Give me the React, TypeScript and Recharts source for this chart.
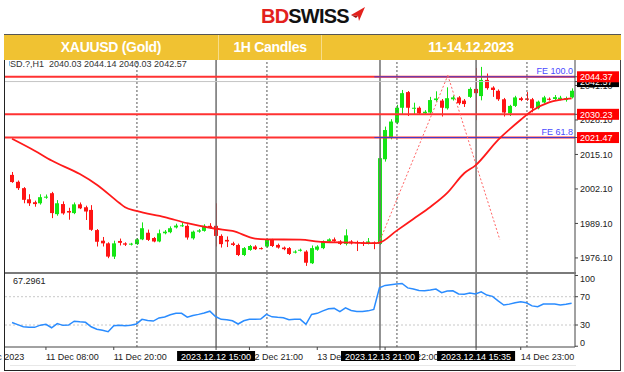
import React from "react";
import { Bar, ComposedChart, Line, ReferenceLine, XAxis, YAxis } from "recharts";

const FONT = "'Liberation Sans', Arial, sans-serif";

// hourly candles, 11-14 Dec 2023 (index 0 = first bar on screen)
const OPEN = [
  2007.4, 2004.8, 2002.4, 1998.2, 1997.1, 1996.7, 1998.8, 2000.5, 1992.6, 1996.4,
  1993.8, 1993.0, 1996.3, 1995.2, 1994.2, 1986.6, 1982.6, 1981.6, 1976.6, 1982.5,
  1981.6, 1981.1, 1981.3, 1983.1, 1985.6, 1983.6, 1982.3, 1985.4, 1985.8, 1987.6,
  1988.1, 1988.2, 1983.5, 1986.0, 1986.3, 1988.2, 1988.2, 1984.4, 1982.9, 1981.6,
  1981.0, 1977.2, 1979.1, 1980.4, 1979.8, 1980.4, 1982.9, 1981.0, 1980.0, 1979.8,
  1978.1, 1978.8, 1978.5, 1974.1, 1979.2, 1979.8, 1982.3, 1983.1, 1982.3, 1981.4,
  1982.3, 1982.0, 1981.9, 1981.4, 1981.9, 1981.4, 2013.3, 2021.6, 2027.1, 2032.7,
  2038.6, 2032.4, 2032.7, 2030.6, 2030.9, 2035.6, 2035.4, 2032.5, 2035.9, 2036.6,
  2035.4, 2036.8, 2039.8, 2037.1, 2043.2, 2040.3, 2039.1, 2035.9, 2030.6, 2033.4,
  2036.3, 2036.2, 2035.9, 2032.5, 2034.7, 2036.1, 2036.0, 2035.9, 2035.6, 2036.6,
];
const HIGH = [
  2008.5, 2005.3, 2002.8, 2000.1, 1997.7, 2000.1, 2000.0, 2001.0, 1997.9, 1997.4,
  1995.0, 1997.0, 1997.0, 1995.8, 1996.0, 1987.0, 1984.0, 1982.0, 1982.6, 1983.4,
  1982.0, 1981.8, 1983.6, 1989.5, 1986.8, 1984.0, 1986.8, 1986.6, 1988.0, 1989.0,
  1989.4, 1988.8, 1986.4, 1987.0, 1988.8, 1989.2, 1996.7, 1985.0, 1984.2, 1982.2,
  1981.5, 1980.2, 1981.0, 1980.9, 1980.1, 1983.4, 1983.3, 1981.5, 1980.4, 1980.2,
  1979.0, 1979.6, 1979.0, 1980.8, 1980.9, 1982.7, 1983.5, 1983.8, 1982.8, 1986.9,
  1982.8, 1982.6, 1982.4, 1983.6, 1982.3, 2021.2, 2025.6, 2028.4, 2033.8, 2039.4,
  2039.0, 2034.6, 2033.2, 2031.8, 2036.8, 2038.9, 2036.0, 2040.4, 2037.3, 2037.1,
  2036.0, 2040.4, 2047.7, 2048.1, 2045.6, 2040.8, 2039.6, 2036.4, 2033.8, 2037.2,
  2036.8, 2038.6, 2036.4, 2035.4, 2037.2, 2036.6, 2037.5, 2037.2, 2036.9, 2040.0,
];
const LOW = [
  2004.4, 2001.7, 1996.7, 1995.7, 1995.4, 1996.2, 1998.4, 1991.1, 1992.0, 1992.4,
  1990.5, 1992.6, 1994.5, 1990.4, 1986.3, 1980.4, 1980.4, 1976.0, 1975.7, 1980.8,
  1980.6, 1980.8, 1981.0, 1982.8, 1982.5, 1982.0, 1982.0, 1985.0, 1985.4, 1987.2,
  1987.8, 1983.0, 1983.0, 1985.6, 1986.0, 1987.2, 1980.4, 1980.0, 1980.2, 1980.6,
  1976.8, 1976.8, 1978.8, 1979.1, 1979.3, 1980.0, 1980.2, 1979.6, 1979.0, 1977.2,
  1977.8, 1978.5, 1973.1, 1973.8, 1978.8, 1979.4, 1982.0, 1982.2, 1981.0, 1980.8,
  1981.2, 1978.7, 1980.6, 1981.2, 1979.4, 1981.0, 2012.4, 2020.8, 2026.5, 2030.0,
  2029.6, 2030.0, 2030.3, 2030.2, 2030.4, 2035.0, 2029.4, 2032.0, 2035.4, 2033.8,
  2033.0, 2036.4, 2028.0, 2035.5, 2039.5, 2036.8, 2035.3, 2029.4, 2029.6, 2033.0,
  2035.2, 2035.3, 2031.0, 2032.1, 2034.3, 2035.4, 2035.6, 2035.5, 2035.0, 2036.2,
];
const CLOSE = [
  2004.7, 2002.4, 1998.0, 1996.7, 1996.4, 1999.0, 1999.2, 1993.0, 1996.7, 1992.9,
  1993.2, 1996.3, 1994.8, 1993.6, 1986.7, 1982.2, 1981.6, 1976.6, 1981.6, 1981.8,
  1981.1, 1981.5, 1983.1, 1987.3, 1982.9, 1982.3, 1985.4, 1986.0, 1987.3, 1988.3,
  1988.4, 1983.8, 1986.0, 1986.5, 1988.2, 1987.6, 1984.4, 1981.3, 1982.3, 1981.0,
  1977.2, 1979.8, 1980.6, 1979.4, 1979.6, 1982.9, 1980.6, 1980.0, 1979.4, 1977.6,
  1978.5, 1979.2, 1974.3, 1979.8, 1980.4, 1982.3, 1983.1, 1982.5, 1981.4, 1984.6,
  1981.6, 1981.8, 1981.6, 1982.3, 1981.4, 2013.7, 2024.3, 2027.5, 2032.7, 2038.2,
  2032.7, 2032.7, 2030.6, 2031.2, 2035.6, 2036.2, 2032.7, 2036.3, 2036.6, 2034.4,
  2034.1, 2039.8, 2038.2, 2043.2, 2040.1, 2039.4, 2035.9, 2030.9, 2033.4, 2036.6,
  2035.6, 2035.7, 2032.5, 2035.0, 2036.6, 2035.7, 2036.7, 2036.5, 2036.3, 2039.1,
];

// moving average, read at a few bars and joined by the line
const MA_BAR = [0, 4, 7, 12, 15, 19, 20, 22, 27, 31, 36, 39, 43, 45, 51, 55, 60, 64, 65, 68, 71, 74, 77, 80, 82, 86, 90, 92, 95, 99];
const MA_VALUE = [
  2021.0, 2016.5, 2012.8, 2007.7, 2003.7, 1996.8, 1995.2, 1993.8, 1991.5, 1989.2,
  1987.1, 1986.3, 1983.4, 1983.1, 1983.0, 1982.1, 1981.9, 1981.7, 1981.9, 1986.3,
  1990.8, 1995.3, 2000.6, 2008.0, 2011.0, 2020.6, 2028.2, 2031.6, 2034.7, 2036.2,
];

const RSI = [
  33.5, 30.5, 27.6, 26.8, 26.7, 29.8, 30.9, 26.1, 32.0, 29.5,
  30.0, 35.4, 34.5, 33.8, 27.5, 24.0, 22.5, 20.5, 29.0, 29.5,
  29.0, 29.8, 31.5, 38.0, 36.5, 35.6, 40.0, 41.4, 44.5, 46.5,
  46.5, 41.0, 43.5, 45.0, 47.0, 49.5, 42.0, 38.0, 37.5, 36.0,
  31.4, 36.0, 38.0, 38.2, 38.4, 45.0, 41.5, 40.8, 40.3, 37.5,
  38.0, 38.0, 31.0, 45.0, 46.5, 50.0, 53.0, 53.5, 49.0, 54.2,
  50.5, 49.0, 49.0, 50.0, 52.0, 82.6, 86.0, 87.0, 88.0, 88.8,
  82.5, 81.0, 78.8, 78.4, 79.5, 80.8, 75.6, 78.0, 78.4, 73.8,
  73.5, 75.2, 74.0, 77.0, 72.3, 70.5, 64.0, 58.2, 59.5, 61.5,
  62.9, 61.4, 57.0, 55.8, 59.6, 59.6, 59.6, 58.3, 59.2, 60.6,
];

const X_DOMAIN = [-1.42, 99.6];
const PRICE_DOMAIN = [1970.8, 2050.7];
const RSI_DOMAIN = [-1.1, 102.1];

const DAY_BREAKS = [22.1, 45.1, 68.1, 91.1];
const CURSOR_AT = [36.1, 65.1, 82.1];
const CURSOR_LABELS = ["2023.12.12 15:00", "2023.12.13 21:00", "2023.12.14 15:35"];
const TIME_TICKS = [-6, 6, 18, 42, 54, 66, 90];
const TIME_LABELS = ["8 Dec 2023", "11 Dec 08:00", "11 Dec 20:00", "12 Dec 21:00", "13 Dec 09:00", "13 Dec 22:00", "14 Dec 23:00"];

const PRICE_TICKS = [1976.1, 1989.1, 2002.1, 2015.1, 2028.1, 2041.1];
const BID = 2042.57;
const LEVELS = [2044.37, 2030.23, 2021.47];
const FE_LEVELS = [2044.37, 2021.47];
const FE_NAMES = ["FE 100.0", "FE 61.8"];
const FE_START = 64.1;
const FE_PATH = [
  { x: 64.9, y: 1981.7 },
  { x: 77.1, y: 2044.9 },
  { x: 86.3, y: 1983.0 },
];
const RSI_TICKS = [100, 70, 30, 0];
const RSI_LEVELS = [70, 30];

const rows = OPEN.map((open, i) => {
  const k = MA_BAR.indexOf(i);
  return {
    i,
    open,
    high: HIGH[i],
    low: LOW[i],
    close: CLOSE[i],
    ma: k >= 0 ? MA_VALUE[k] : null,
    rsi: RSI[i],
  };
});

function Candle(props: any) {
  const { x, y, width, height, payload } = props;
  if (!payload || !Number.isFinite(y)) return null;
  const top = Math.min(y, y + height);
  const h = Math.abs(height);
  const range = payload.high - payload.low || 1;
  const ppu = h / range;
  const up = payload.close >= payload.open;
  const color = up ? "#14e614" : "#ff1414";
  const bodyTop = top + (payload.high - Math.max(payload.open, payload.close)) * ppu;
  const bodyH = Math.max(1, Math.abs(payload.open - payload.close) * ppu);
  const cx = Math.round(x + width / 2) + 0.5;
  return (
    <g>
      <line x1={cx} x2={cx} y1={top} y2={top + h} stroke={color} strokeWidth={1} />
      <rect x={Math.round(x)} y={bodyTop} width={width} height={bodyH} fill={color} />
    </g>
  );
}

function PriceTick(props: any) {
  const { x, y, payload } = props;
  const v = payload.value;
  const text = v.toFixed(2);
  if (v === BID || LEVELS.includes(v)) {
    return (
      <g>
        <rect x={x - 3} y={y - 5.5} width={42} height={11} fill={v === BID ? "#000" : "#ff0000"} />
        <text x={x} y={y + 3.5} fill="#fff" fontSize={9} fontFamily={FONT}>
          {text}
        </text>
      </g>
    );
  }
  return (
    <text x={x} y={y + 3.5} fill="#222" fontSize={9} fontFamily={FONT}>
      {text}
    </text>
  );
}

function RsiTick(props: any) {
  const { x, y, payload } = props;
  const v = payload.value;
  const dy = v >= 100 ? 6.5 : v <= 0 ? -0.5 : 3.2;
  return (
    <text x={x} y={y + dy} fill="#222" fontSize={9} fontFamily={FONT}>
      {v}
    </text>
  );
}

function TimeTick(props: any) {
  const { x, y, payload } = props;
  const v = payload.value;
  const c = CURSOR_AT.indexOf(v);
  if (c >= 0) {
    return (
      <g>
        <rect x={x - 39} y={y - 1} width={78} height={10} fill="#000" />
        <text x={x} y={y + 7.5} fill="#fff" fontSize={9} fontFamily={FONT} textAnchor="middle">
          {CURSOR_LABELS[c]}
        </text>
      </g>
    );
  }
  const k = TIME_TICKS.indexOf(v);
  return (
    <text x={x} y={y + 7.5} fill="#222" fontSize={9} fontFamily={FONT}>
      {TIME_LABELS[k]}
    </text>
  );
}

function FeLabel(props: any) {
  const vb = props.viewBox || {};
  if (!Number.isFinite(vb.x)) return null;
  return (
    <text x={vb.x + vb.width - 2} y={vb.y - 3} fill="#4a4aff" fontSize={9} fontFamily={FONT} textAnchor="end">
      {props.text}
    </text>
  );
}

function Logo() {
  return (
    <div style={{ position: "absolute", left: 261, top: 5, height: 22, display: "flex", alignItems: "center" }}>
      <span style={{ fontFamily: FONT, fontWeight: 700, fontSize: 20, letterSpacing: -0.8, color: "#e3211c" }}>BD</span>
      <span style={{ fontFamily: FONT, fontWeight: 700, fontSize: 20, letterSpacing: -0.8, color: "#111" }}>SWISS</span>
      <svg width={16} height={16} style={{ marginLeft: 1, marginTop: -4 }}>
        <polygon points="1,9 15,1 9,15 8,10" fill="#e3211c" />
        <polygon points="1,9 8,10 6,12" fill="#a0100c" />
      </svg>
    </div>
  );
}

function Header() {
  const cell: React.CSSProperties = {
    position: "absolute",
    top: 0,
    height: 25,
    lineHeight: "25px",
    textAlign: "center",
    color: "#fff",
    fontFamily: FONT,
    fontWeight: 700,
    fontSize: 14,
    letterSpacing: -0.3,
  };
  return (
    <div style={{ position: "absolute", left: 4, top: 34, width: 617, height: 25, background: "#f0c232", borderTop: "1px solid #555" }}>
      <div style={{ ...cell, left: 0, width: 214 }}>XAUUSD (Gold)</div>
      <div style={{ ...cell, left: 214, width: 102, borderLeft: "1px solid #f7dc8a", borderRight: "1px solid #f7dc8a" }}>1H Candles</div>
      <div style={{ ...cell, left: 317, width: 300 }}>11-14.12.2023</div>
    </div>
  );
}

export default function App() {
  return (
    <div style={{ position: "absolute", left: 0, top: 0, width: 624, height: 372, background: "#fff", overflow: "hidden" }}>
      <div style={{ position: "absolute", left: 0, top: 0 }}>
        <ComposedChart width={624} height={273} data={rows} margin={{ top: 60, right: 0, bottom: 1, left: 4 }}>
          <XAxis dataKey="i" type="number" domain={X_DOMAIN} allowDataOverflow hide />
          <YAxis
            orientation="right"
            type="number"
            domain={PRICE_DOMAIN}
            allowDataOverflow
            width={49}
            ticks={[...PRICE_TICKS, BID, ...LEVELS]}
            interval={0}
            tick={<PriceTick />}
            tickSize={3}
            axisLine={{ stroke: "#444" }}
            tickLine={{ stroke: "#444" }}
          />
          {DAY_BREAKS.map((x) => (
            <ReferenceLine key={"d" + x} x={x} stroke="#555" strokeDasharray="2 2" />
          ))}
          {CURSOR_AT.map((x) => (
            <ReferenceLine key={"c" + x} x={x} stroke="#6e6e6e" strokeWidth={1.5} />
          ))}
          <ReferenceLine y={BID} stroke="#c4c4c4" />
          {LEVELS.map((v) => (
            <ReferenceLine key={"l" + v} y={v} stroke="#ff3232" strokeWidth={2} />
          ))}
          {FE_LEVELS.map((v, k) => (
            <ReferenceLine
              key={"fe" + v}
              segment={[
                { x: FE_START, y: v },
                { x: X_DOMAIN[1], y: v },
              ]}
              stroke="#3c3cd2"
              strokeWidth={1}
              label={(p: any) => <FeLabel {...p} text={FE_NAMES[k]} />}
            />
          ))}
          <ReferenceLine segment={[FE_PATH[0], FE_PATH[1]]} stroke="#ff6464" strokeDasharray="2 2" />
          <ReferenceLine segment={[FE_PATH[1], FE_PATH[2]]} stroke="#ff6464" strokeDasharray="2 2" />
          <Bar dataKey={(d: any) => [d.low, d.high]} barSize={4} shape={<Candle />} isAnimationActive={false} />
          <Line
            dataKey="ma"
            type="monotone"
            stroke="#ff1a1a"
            strokeWidth={1.8}
            dot={false}
            connectNulls
            isAnimationActive={false}
          />
        </ComposedChart>
      </div>

      <div style={{ position: "absolute", left: 0, top: 273 }}>
        <ComposedChart width={624} height={98} data={rows} margin={{ top: 1, right: 0, bottom: 0, left: 4 }}>
          <XAxis
            dataKey="i"
            type="number"
            domain={X_DOMAIN}
            allowDataOverflow
            ticks={[...TIME_TICKS, ...CURSOR_AT]}
            interval={0}
            tick={<TimeTick />}
            tickSize={3}
            height={24}
            axisLine={{ stroke: "#444" }}
            tickLine={{ stroke: "#444" }}
          />
          <YAxis
            orientation="right"
            type="number"
            domain={RSI_DOMAIN}
            allowDataOverflow
            width={49}
            ticks={RSI_TICKS}
            interval={0}
            tick={<RsiTick />}
            tickSize={3}
            axisLine={{ stroke: "#444" }}
            tickLine={{ stroke: "#444" }}
          />
          {RSI_LEVELS.map((v) => (
            <ReferenceLine key={"r" + v} y={v} stroke="#c8c8c8" strokeDasharray="2 2" />
          ))}
          {DAY_BREAKS.map((x) => (
            <ReferenceLine key={"d" + x} x={x} stroke="#555" strokeDasharray="2 2" />
          ))}
          {CURSOR_AT.map((x) => (
            <ReferenceLine key={"c" + x} x={x} stroke="#6e6e6e" strokeWidth={1.5} />
          ))}
          <Line dataKey="rsi" type="linear" stroke="#2a8cff" strokeWidth={1.5} dot={false} isAnimationActive={false} />
        </ComposedChart>
      </div>

      {/* panel separator and frame */}
      <div style={{ position: "absolute", left: 4, top: 272, width: 572, height: 2, background: "#7a7a7a" }} />
      <div style={{ position: "absolute", left: 10, top: 365, width: 566, height: 1, background: "#e8e8e8" }} />
      <div style={{ position: "absolute", left: 4, top: 58, width: 1, height: 313, background: "#222" }} />
      <div style={{ position: "absolute", left: 4, top: 370, width: 617, height: 1, background: "#222" }} />
      <div style={{ position: "absolute", left: 620, top: 58, width: 1, height: 313, background: "#444" }} />

      <div style={{ position: "absolute", left: 9, top: 59, width: 200, height: 11, overflow: "hidden" }}>
        <div style={{ position: "absolute", left: -24, top: 0, whiteSpace: "pre", fontFamily: FONT, fontSize: 9, color: "#333" }}>
          XAUUSD.?,H1  2040.03 2044.14 2040.03 2042.57
        </div>
      </div>
      <div style={{ position: "absolute", left: 13, top: 276, fontFamily: FONT, fontSize: 9, color: "#222" }}>67.2961</div>

      <Logo />
      <Header />
    </div>
  );
}
